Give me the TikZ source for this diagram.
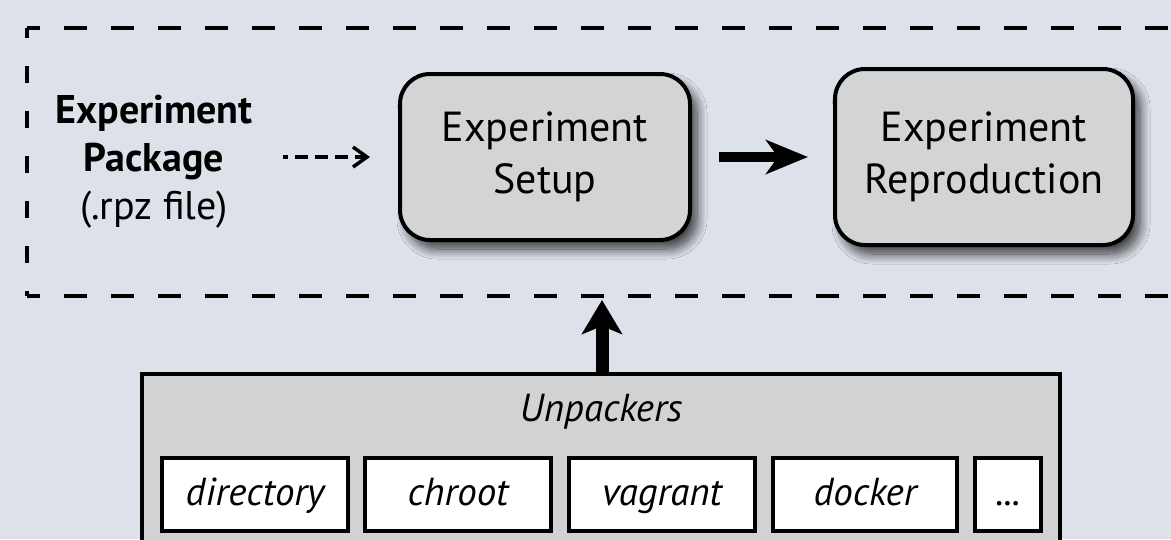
\documentclass[tikz,border=0pt]{standalone}
\usepackage{fontspec}
\setmainfont{PT Sans}
\usepackage{tikz}
\usetikzlibrary{arrows.meta, shadows.blur}

\definecolor{bgblue}{HTML}{DDE1EA}
\definecolor{boxgray}{HTML}{D3D4D6}
\definecolor{unpackgray}{HTML}{D1D2D4}

\tikzset{
  stagebox/.style={draw, line width=4pt, fill=boxgray, rounded corners=30pt, align=center,
    font=\fontsize{42}{52}\selectfont,
    blur shadow={shadow xshift=7pt, shadow yshift=-9pt, shadow blur radius=10pt, shadow blur steps=12, shadow opacity=75}},
  unpackbox/.style={draw, line width=3.5pt, fill=unpackgray, inner sep=0pt},
  methodbox/.style={draw, line width=4pt, fill=white, inner sep=0pt, minimum height=73pt,
    text height=28pt, text depth=7pt, font=\fontsize{39}{44}\selectfont\itshape},
  pkglabel/.style={align=center, font=\fontsize{40}{48}\selectfont},
  fence/.style={line width=3.5pt},
}

\begin{document}
\begin{tikzpicture}[x=1pt, y=-1pt]
\pgfmathsetmacro{\fenceTop}{28}
\pgfmathsetmacro{\fenceBot}{296}
\pgfmathsetmacro{\fenceLeft}{27}
\useasboundingbox (0,0) rectangle (1171,539);
\clip (0,0) rectangle (1171,539);
\fill[bgblue] (0,0) rectangle (1171,539);

% dashed frame, open on the right
\draw[fence, dash pattern=on 23pt off 24pt, dash phase=10pt] (\fenceLeft,\fenceTop) -- (1200,\fenceTop);
\draw[fence, dash pattern=on 23pt off 24pt, dash phase=10pt] (\fenceLeft,\fenceBot) -- (1200,\fenceBot);
\draw[fence, dash pattern=on 17pt off 28pt, dash phase=7pt] (\fenceLeft,\fenceTop) -- (\fenceLeft,\fenceBot);
\coordinate (fenceb) at (602,300);

\node[pkglabel] (pkg) at (154,162) {\textbf{Experiment}\\\textbf{Package}\\(.rpz file)};
\node[stagebox, minimum width=290pt, minimum height=166pt] (setup) at (545,157) {Experiment\\Setup};
\node[stagebox, minimum width=298pt, minimum height=176pt] (repro) at (984,157) {Experiment\\Reproduction};

\coordinate (pkgout) at (283,157);
\draw[line width=3.5pt, dash pattern=on 13pt off 7pt, dash phase=8pt, -{Straight Barb[length=14pt, width=20pt]}] (pkgout) -- ([xshift=-28pt]setup.west);
\draw[line width=10pt, -{Stealth[length=42pt, width=34pt, inset=12pt]}] (setup.east) ++(27pt,0) -- ++(89pt,0) coordinate (reproin);

%.... unpackers
\node[unpackbox, minimum width=918pt, minimum height=200pt] (unpack) at (601,474) {};
\node[font=\fontsize{39}{44}\selectfont\itshape, anchor=base] (unpacktitle) at (601,421) {Unpackers};
\node[methodbox, minimum width=186pt] (dir) at (255,494.5) {directory};
\node[methodbox, minimum width=186pt] (chroot) at (458,494.5) {chroot};
\node[methodbox, minimum width=186pt] (vagrant) at (662,494.5) {vagrant};
\node[methodbox, minimum width=184pt] (docker) at (865,494.5) {docker};
\node[methodbox, minimum width=66pt] (more) at (1008,494.5) {...};

\draw[line width=13pt, -{Stealth[length=34pt, width=40pt, inset=8pt]}] (unpack.north -| fenceb) -- (fenceb);
\end{tikzpicture}
\end{document}
